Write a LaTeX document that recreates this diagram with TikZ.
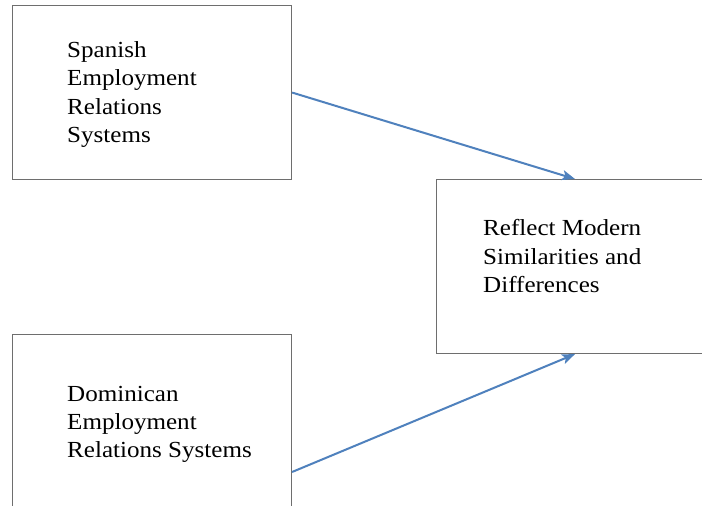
\documentclass[tikz,border=0pt]{standalone}
\usepackage{fontspec}
\setmainfont{Liberation Serif}[FakeStretch=1.09]
\usetikzlibrary{arrows.meta,calc}
\definecolor{boxline}{RGB}{110,110,110}
\definecolor{arrowblue}{RGB}{79,129,189}
\tikzset{
  panel/.style={draw=boxline, line width=1.1pt, fill=white},
  label/.style={anchor=base west, inner sep=0pt, font=\fontsize{23pt}{28.5pt}\selectfont},
  link/.style={draw=arrowblue, line width=2pt, -{Stealth[length=13pt,width=10pt,inset=3pt]}}
}
\begin{document}
\begin{tikzpicture}[x=1pt,y=1pt]
  \useasboundingbox (0,0) rectangle (702,506);
  \fill[white] (0,0) rectangle (702,506);
  \begin{scope}
    \clip (0,0) rectangle (702,506);
    % boxes
    \node[panel, minimum width=279pt, minimum height=174pt, anchor=north west] (spain) at (12,501) {};
    \node[panel, minimum width=266pt, minimum height=174pt, anchor=north west] (result) at (436,327) {};
    \node[panel, minimum width=279pt, minimum height=174pt, anchor=north west] (dom) at (12,172) {};
  \end{scope}
  % box texts
  \node[label] (s1) at (67,448) {Spanish};
  \node[label] (s2) at (67,420) {Employment};
  \node[label] (s3) at (67,391) {Relations};
  \node[label] (s4) at (67,363) {Systems};
  \node[label] (r1) at (483,270) {Reflect Modern};
  \node[label] (r2) at (483,241) {Similarities and};
  \node[label] (r3) at (483,213) {Differences};
  \node[label] (d1) at (67,104) {Dominican};
  \node[label] (d2) at (67,76) {Employment};
  \node[label] (d3) at (67,48) {Relations Systems};
  % connectors
  \coordinate (domout) at ($(dom.north east)+(0,-138)$);
  \coordinate (intop) at ($(result.north west)+(139,0)$);
  \coordinate (inbot) at ($(result.south west)+(139,0)$);
  \draw[link] (spain.east) -- (intop);
  \draw[link] (domout) -- (inbot);
\end{tikzpicture}
\end{document}
